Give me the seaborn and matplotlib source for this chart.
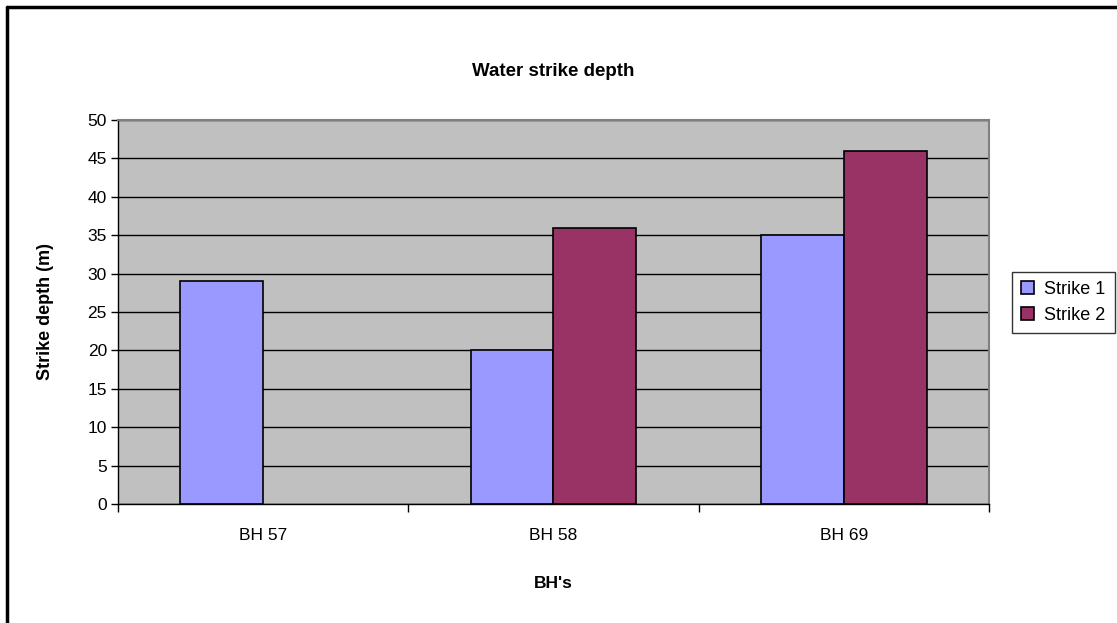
import numpy as np
import pandas as pd
import matplotlib
matplotlib.use('Agg')
import matplotlib.pyplot as plt
import seaborn as sns
from matplotlib.lines import Line2D

# 데이터
boreholes = ['BH 57', 'BH 58', 'BH 69']
strike_1 = [29, 20, 35]
strike_2 = [np.nan, 36, 46]
series_names = ['Strike 1', 'Strike 2']
colors = ['#9999FF', '#993366']

df = pd.DataFrame({
    'BH': boreholes * 2,
    'depth': strike_1 + strike_2,
    'Strike': [series_names[0]] * 3 + [series_names[1]] * 3,
})

sns.set_style('white')
plt.rcParams['font.family'] = ['Liberation Sans', 'DejaVu Sans']
plt.rcParams['text.color'] = 'black'
plt.rcParams['axes.labelcolor'] = 'black'
plt.rcParams['xtick.color'] = 'black'
plt.rcParams['ytick.color'] = 'black'

W, H = 1117, 623
fig = plt.figure(figsize=(W / 100, H / 100), dpi=100)
ax = fig.add_axes([118 / W, 1 - 504 / H, (989 - 118) / W, (504 - 120) / H])
ax.set_facecolor('#C0C0C0')

sns.barplot(data=df, x='BH', y='depth', hue='Strike', palette=colors,
            width=0.57, edgecolor='black', linewidth=1.2, errorbar=None,
            saturation=1, ax=ax)

ax.set_ylim(0, 50)
ax.set_xlim(-0.5, 2.5)
ax.set_yticks(range(0, 51, 5))
ax.yaxis.grid(True, color='black', linewidth=1)
ax.set_axisbelow(True)

# 축 스타일
for side in ['top', 'right']:
    ax.spines[side].set_color('#808080')
    ax.spines[side].set_linewidth(1.5)
for side in ['left', 'bottom']:
    ax.spines[side].set_color('black')
    ax.spines[side].set_linewidth(1)

ax.tick_params(axis='y', which='major', left=True, length=5, width=1,
               color='black', labelsize=12.5, pad=3)
ax.tick_params(axis='x', which='major', bottom=False, length=0,
               labelsize=12.5, pad=17)
ax.set_xticks([-0.5, 0.5, 1.5, 2.5], minor=True)
ax.tick_params(axis='x', which='minor', bottom=True, length=6, width=1,
               color='black')

ax.set_xlabel("BH's", fontsize=12.5, fontweight='bold', va='center')
ax.xaxis.set_label_coords(0.5, -(583 - 504) / 384)
ax.set_ylabel('Strike depth (m)', fontsize=13, fontweight='bold', va='center')
ax.yaxis.set_label_coords((45 - 118) / 871, 0.5)

ax.set_title('Water strike depth', fontsize=13.5, fontweight='bold',
             y=(504 - 72) / 384, va='center', pad=0)

# 범례
handles, labels = ax.get_legend_handles_labels()
ax.get_legend().remove()
leg = fig.legend(handles, labels, loc='upper left',
                 bbox_to_anchor=(1012 / W, 1 - 272 / H),
                 frameon=True, fancybox=False, fontsize=13,
                 handlelength=0.7, handleheight=0.7, handletextpad=0.6,
                 borderpad=0.5, labelspacing=0.5, borderaxespad=0)
leg.get_frame().set_edgecolor('black')
leg.get_frame().set_linewidth(1)

# 차트 테두리
fig.add_artist(Line2D([7 / W, 1], [1 - 7 / H, 1 - 7 / H],
                      transform=fig.transFigure, color='black', lw=2.5))
fig.add_artist(Line2D([7 / W, 7 / W], [0, 1 - 7 / H],
                      transform=fig.transFigure, color='black', lw=2.5))

fig.savefig('out.png', dpi=100)
plt.close(fig)
